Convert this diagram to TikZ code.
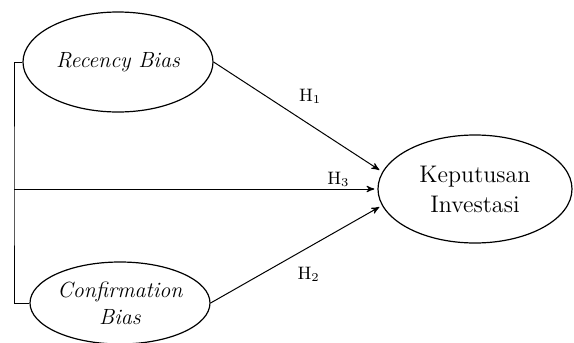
\documentclass[tikz,border=0pt]{standalone}
\usepackage{tikz}
\usetikzlibrary{positioning,arrows,calc,shapes}
\tikzset{
    latent/.style={
        ellipse,
        draw,
        line width=0.6pt,
        inner sep=0pt,
        align=center,
        font=\fontsize{11}{13.5}\selectfont\itshape
    },
    arrow/.style={
        ->,
        >=stealth',
        line width=0.5pt
    },
    hyp/.style={
        font=\small,
        inner sep=1pt
    }
}
\begin{document}
\begin{tikzpicture}[x=0.5pt, y=-0.5pt]
    \useasboundingbox (0,0) rectangle (574,343);
    \node[latent, minimum width=95pt, minimum height=50pt] (recency) at (118,62) {Recency Bias};
    \node[latent, minimum width=90pt, minimum height=41pt] (confirm) at (120,303) {Confirmation\\Bias};
    \node[latent, minimum width=97pt, minimum height=54pt,
          font=\fontsize{12}{15}\selectfont] (keputusan) at (475,189) {Keputusan\\Investasi};

    % bracket joining both biases
    \coordinate (split) at (14,189);
    \draw[line width=0.5pt] (recency.west) -| (split) |- (confirm.west);

    \draw[arrow] (recency.east) -- node[hyp, pos=0.5, above right=5pt and 0pt] {$\mathrm{H}_1$} ($(keputusan.west)+(2,-19)$);
    \draw[arrow] (split) -- node[hyp, pos=0.9, above] {$\mathrm{H}_3$} ($(keputusan.west)+(-3,0)$);
    \draw[arrow] (confirm.east) -- node[hyp, pos=0.5, below right=5pt and 0pt] {$\mathrm{H}_2$} ($(keputusan.west)+(2,18)$);
\end{tikzpicture}
\end{document}
